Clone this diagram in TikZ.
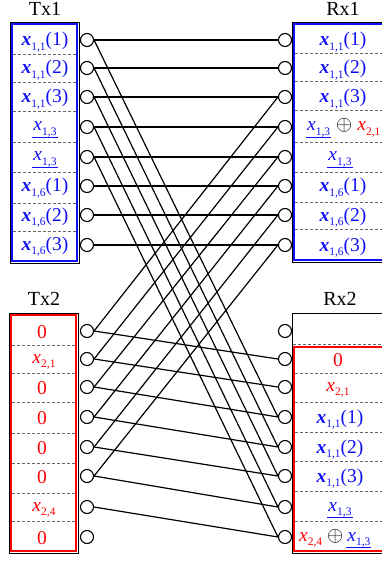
\documentclass[tikz,border=0pt]{standalone}
\usepackage{fontspec}
\setmainfont{Liberation Serif}
\definecolor{bl}{RGB}{15,15,245}
\definecolor{rd}{RGB}{255,0,0}
\newcommand{\subx}[1]{\raisebox{-4.5pt}{\fontsize{11.5}{12}\selectfont #1}}
\newcommand{\xbold}[2]{\textbf{\textit{x}}\subx{#1}#2}
\newcommand{\xit}[1]{\textit{x}\subx{#1}}
\newcommand{\uxit}[1]{\setbox0\hbox{\xit{#1}}\rlap{\hspace*{-1.5pt}\rule[-6.5pt]{\dimexpr\wd0+2.5pt\relax}{0.9pt}}\box0}
\tikzset{
  port/.style={circle,draw,fill=white,minimum size=13pt,inner sep=0pt,line width=1.1pt},
  conn/.style={line width=1.2pt},
  divider/.style={gray!80!black,dashed,line width=0.6pt,dash pattern=on 3pt off 2pt},
  txt/.style={anchor=base,inner sep=0pt,font=\fontsize{19.5}{21}\selectfont},
  lab/.style={anchor=base,inner sep=0pt,font=\fontsize{20}{22}\selectfont},
  outer/.style={draw=black,line width=0.9pt},
  bluebox/.style={draw=bl,line width=2.4pt},
  redbox/.style={draw=rd,line width=2.2pt}
}
\begin{document}
\begin{tikzpicture}[x=1pt,y=-1pt]
\useasboundingbox (0,0) rectangle (382,561);
\clip (0,0) rectangle (382,561);
% labels
\node[lab] (ltx1) at (45,16) {Tx1};
\node[lab] (lrx1) at (343,16) {Rx1};
\node[lab] (ltx2) at (44,305) {Tx2};
\node[lab] (lrx2) at (340,305) {Rx2};
% boxes
\draw[outer] (10,22) rectangle (79,263);
\draw[bluebox] (12,24) rectangle (77,261);
\draw[outer] (292,22) rectangle (410,262);
\draw[bluebox] (294,24) rectangle (408,260);
\draw[outer] (9,313) rectangle (78,553);
\draw[redbox] (11,315) rectangle (76,551);
\draw[outer] (292,313) rectangle (410,553);
\draw[redbox] (294,347) rectangle (408,551);
% dividers
\foreach \y in {54,82,111,142,172,203,231} \draw[divider] (13,\y) -- (76,\y);
\foreach \y in {53,81,110,142,172,202,229} \draw[divider] (295,\y) -- (407,\y);
\foreach \y in {345,373,402,433,463,493,521} \draw[divider] (12,\y) -- (75,\y);
\draw[divider] (293,344) -- (409,344);
\foreach \y in {373,402,432,461,491,521} \draw[divider] (295,\y) -- (407,\y);
% Tx1 texts
\node[txt,bl] (t11) at (45,46) {\xbold{1,1}{(1)}};
\node[txt,bl] (t12) at (45,74) {\xbold{1,1}{(2)}};
\node[txt,bl] (t13) at (45,103) {\xbold{1,1}{(3)}};
\node[txt,bl] (t14) at (45,131) {\uxit{1,3}};
\node[txt,bl] (t15) at (45,161) {\uxit{1,3}};
\node[txt,bl] (t16) at (45,192) {\xbold{1,6}{(1)}};
\node[txt,bl] (t17) at (45,221) {\xbold{1,6}{(2)}};
\node[txt,bl] (t18) at (45,250) {\xbold{1,6}{(3)}};
% Rx1 texts
\node[txt,bl] (r11) at (343,46) {\xbold{1,1}{(1)}};
\node[txt,bl] (r12) at (343,74) {\xbold{1,1}{(2)}};
\node[txt,bl] (r13) at (343,103) {\xbold{1,1}{(3)}};
\node[txt,anchor=base west] (r14) at (307,131) {{\color{bl}\uxit{1,3}}\hspace{6pt}$\oplus$\hspace{5pt}{\color{rd}\xit{2,1}}};
\node[txt,bl] (r15) at (340,161) {\uxit{1,3}};
\node[txt,bl] (r16) at (343,192) {\xbold{1,6}{(1)}};
\node[txt,bl] (r17) at (343,221) {\xbold{1,6}{(2)}};
\node[txt,bl] (r18) at (343,251) {\xbold{1,6}{(3)}};
% Tx2 texts
\node[txt,rd] (t21) at (42,338) {0};
\node[txt,rd] (t22) at (44,363) {\xit{2,1}};
\node[txt,rd] (t23) at (42,394) {0};
\node[txt,rd] (t24) at (42,424) {0};
\node[txt,rd] (t25) at (42,454) {0};
\node[txt,rd] (t26) at (42,483) {0};
\node[txt,rd] (t27) at (44,511) {\xit{2,4}};
\node[txt,rd] (t28) at (42,544) {0};
% Rx2 texts
\node[txt,rd] (r22) at (338,366) {0};
\node[txt,rd] (r23) at (338,391) {\xit{2,1}};
\node[txt,bl] (r24) at (340,423) {\xbold{1,1}{(1)}};
\node[txt,bl] (r25) at (340,453) {\xbold{1,1}{(2)}};
\node[txt,bl] (r26) at (340,482) {\xbold{1,1}{(3)}};
\node[txt,bl] (r27) at (340,511) {\uxit{1,3}};
\node[txt,anchor=base west] (r28) at (299,541) {{\color{rd}\xit{2,4}}\hspace{5pt}$\oplus$\hspace{4pt}{\color{bl}\uxit{1,3}}};
% ports
\foreach \i/\y in {1/40,2/68,3/97,4/127,5/157,6/186,7/215,8/245} {
  \node[port] (a\i) at (87,\y) {};
  \node[port] (b\i) at (285,\y) {};
}
\foreach \i/\y in {1/331,2/359,3/387,4/417,5/447,6/476,7/507,8/537} {
  \node[port] (c\i) at (87,\y) {};
  \node[port] (d\i) at (285,\y) {};
}
% connections
\foreach \i in {1,...,8} \draw[conn] (a\i.east) -- (b\i.west);
\foreach \i/\j in {1/4,2/5,3/6,4/7,5/8} \draw[conn] (a\i.east) -- (d\j.west);
\foreach \i/\j in {1/3,2/4,3/5,4/6,5/7,6/8} \draw[conn] (c\i.east) -- (b\j.west);
\foreach \i/\j in {1/2,2/3,3/4,4/5,5/6,6/7,7/8} \draw[conn] (c\i.east) -- (d\j.west);
\end{tikzpicture}
\end{document}
